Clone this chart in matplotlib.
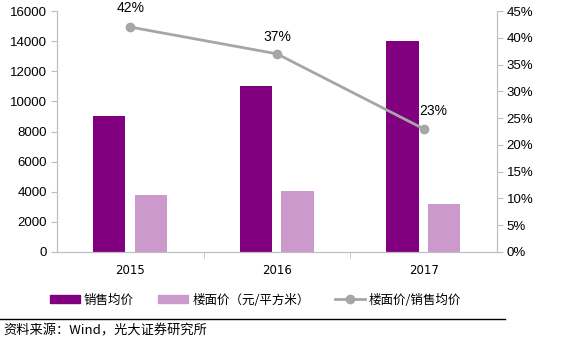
import matplotlib
matplotlib.use('Agg')
from matplotlib import pyplot as plt
from matplotlib.lines import Line2D
from matplotlib.patches import Patch
import numpy as np

plt.rcParams['font.family'] = ['Liberation Sans', 'Noto Sans CJK SC', 'DejaVu Sans']

years = ['2015', '2016', '2017']
sale_price = [9000, 11000, 14000]
land_price = [3800, 4050, 3200]
ratio = [0.42, 0.37, 0.23]
ratio_labels = ['42%', '37%', '23%']

dark = '#800080'
light = '#CC99CC'
grey = '#A6A6A6'
cjk = ['Noto Sans CJK SC', 'DejaVu Sans']

fig = plt.figure(figsize=(5.62, 3.39), dpi=100)
ax = fig.add_axes([57 / 562, 1 - 252 / 339, 440 / 562, 241 / 339])
ax2 = ax.twinx()

x = np.arange(len(years))
w = 0.22
ax.bar(x - 0.145, sale_price, width=w, color=dark, zorder=2)
ax.bar(x + 0.14, land_price, width=w, color=light, zorder=2)

ax.set_xlim(-0.5, 2.5)
ax.set_ylim(0, 16000)
ax.set_yticks(range(0, 16001, 2000))
ax.set_xticks(x)
ax.set_xticklabels(years, fontsize=8.5, fontfamily='DejaVu Sans')
ax.set_xticks([0.5, 1.5], minor=True)
ax.tick_params(axis='x', which='major', length=0, pad=9)
ax.tick_params(axis='x', which='minor', length=4, color='#BFBFBF', direction='out')
ax.tick_params(axis='y', length=4, color='#BFBFBF', labelsize=9.5, pad=3)

ax2.plot(x, ratio, color=grey, lw=2, marker='o', ms=6, zorder=3)
ax2.set_ylim(0, 0.45)
ax2.set_yticks(np.arange(0, 0.451, 0.05))
ax2.set_yticklabels([f'{int(round(v * 100))}%' for v in np.arange(0, 0.451, 0.05)])
ax2.tick_params(axis='y', length=4, color='#BFBFBF', labelsize=9.5, pad=3)

for a in (ax, ax2):
    a.spines['top'].set_visible(False)
    a.spines['left'].set_color('#BFBFBF')
    a.spines['right'].set_color('#BFBFBF')
    a.spines['bottom'].set_color('#BFBFBF')

ax2.annotate(ratio_labels[0], (x[0], ratio[0]), xytext=(0, 13.5), textcoords='offset points',
             ha='center', va='center', fontsize=10, annotation_clip=False)
ax2.annotate(ratio_labels[1], (x[1], ratio[1]), xytext=(0, 12), textcoords='offset points',
             ha='center', va='center', fontsize=10)
ax2.annotate(ratio_labels[2], (x[2], ratio[2]), xytext=(7, 13), textcoords='offset points',
             ha='center', va='center', fontsize=10,
             arrowprops=dict(arrowstyle='-', color=grey, lw=0.8, shrinkA=5, shrinkB=3))

handles = [Patch(color=dark), Patch(color=light),
           Line2D([], [], color=grey, lw=2, marker='o', ms=6)]
labels = ['销售均价', '楼面价（元/平方米）', '楼面价/销售均价']
fig.legend(handles, labels, loc='center', bbox_to_anchor=(0.454, 1 - 300 / 339), ncol=3,
           frameon=False, prop={'family': cjk, 'size': 9}, handlelength=2.4,
           handleheight=0.6, columnspacing=2.0, handletextpad=0.3)

fig.add_artist(Line2D([0, 505 / 562], [1 - 319 / 339] * 2, color='black', lw=1))
fig.text(3 / 562, 1 - 331 / 339, '资料来源：Wind，光大证券研究所', fontsize=9.5,
         fontfamily=cjk, va='center', ha='left')

fig.savefig('out.png', dpi=100)
